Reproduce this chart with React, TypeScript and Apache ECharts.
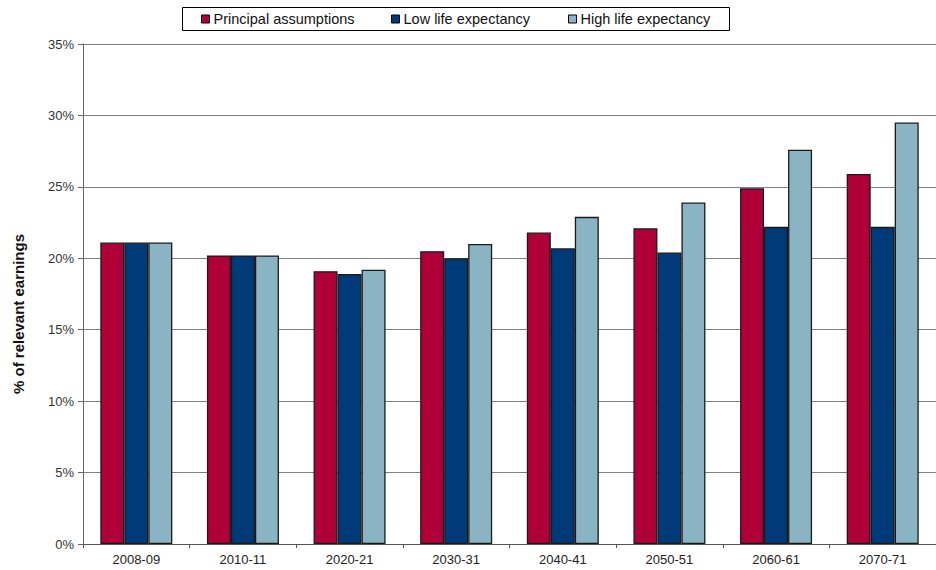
import React, { useEffect, useRef } from "react";
import * as echarts from "echarts";

const categories = ["2008-09", "2010-11", "2020-21", "2030-31", "2040-41", "2050-51", "2060-61", "2070-71"];
const principal = [21.1, 20.2, 19.1, 20.5, 21.8, 22.1, 24.9, 25.9];
const lowLife = [21.1, 20.2, 18.9, 20.0, 20.7, 20.4, 22.2, 22.2];
const highLife = [21.1, 20.2, 19.2, 21.0, 22.9, 23.9, 27.6, 29.5];
const seriesNames = ["Principal assumptions", "Low life expectancy", "High life expectancy"];
const seriesColors = ["#B0003A", "#003A78", "#8AB4C4"];
const yTicks = [0, 5, 10, 15, 20, 25, 30, 35];

const FONT = "'Liberation Sans', Arial, sans-serif";

export default function App() {
  const ref = useRef<HTMLDivElement>(null);

  useEffect(() => {
    if (!ref.current) return;
    const chart = echarts.init(ref.current, null, { renderer: "svg" });
    const values = [principal, lowLife, highLife];
    const legendLefts = [201, 391, 568];

    chart.setOption({
      animation: false,
      backgroundColor: "#ffffff",
      textStyle: { fontFamily: FONT },
      grid: { left: 83, top: 44, width: 862, height: 500 },
      legend: seriesNames.map((name, i) => ({
        data: [name],
        left: legendLefts[i],
        top: 11,
        padding: 0,
        icon: "rect",
        itemWidth: 8,
        itemHeight: 8,
        itemGap: 0,
        itemStyle: { borderColor: "#000", borderWidth: 1 },
        textStyle: { fontFamily: FONT, fontSize: 14.5, color: "#111", lineHeight: 16, padding: [0, 0, 0, -1] },
        selectedMode: false,
      })),
      graphic: [
        {
          type: "rect",
          shape: { x: 182.5, y: 7.5, width: 547, height: 23 },
          style: { fill: "none", stroke: "#000", lineWidth: 1 },
          z: 10,
        },
        {
          type: "text",
          x: 18,
          y: 314,
          rotation: Math.PI / 2,
          style: {
            text: "% of relevant earnings",
            font: `bold 15px ${FONT}`,
            fill: "#111",
            align: "center",
            verticalAlign: "middle",
          },
        },
      ],
      xAxis: {
        type: "category",
        data: categories,
        axisLine: { lineStyle: { color: "#555", width: 1 } },
        axisTick: { show: true, length: 4, lineStyle: { color: "#555" } },
        axisLabel: { fontSize: 13, color: "#222", margin: 9, fontFamily: FONT },
        splitLine: { show: false },
      },
      yAxis: {
        type: "value",
        min: 0,
        max: 35,
        interval: 5,
        axisLine: { show: true, lineStyle: { color: "#666", width: 1 } },
        axisTick: { show: true, length: 5, lineStyle: { color: "#666" } },
        axisLabel: {
          fontSize: 13,
          color: "#333",
          margin: 9,
          fontFamily: FONT,
          formatter: (v: number) => (yTicks.includes(v) ? `${v}%` : ""),
        },
        splitLine: { show: true, lineStyle: { color: "#808080", width: 1 } },
      },
      series: seriesNames.map((name, i) => ({
        name,
        type: "bar",
        data: values[i],
        barWidth: 24,
        barGap: "0%",
        itemStyle: { color: seriesColors[i], borderColor: "#1a1a1a", borderWidth: 1.3 },
      })),
    });

    return () => chart.dispose();
  }, []);

  return (
    <div
      ref={ref}
      style={{ position: "fixed", left: 0, top: 0, width: 936, height: 570, background: "#fff" }}
    />
  );
}
